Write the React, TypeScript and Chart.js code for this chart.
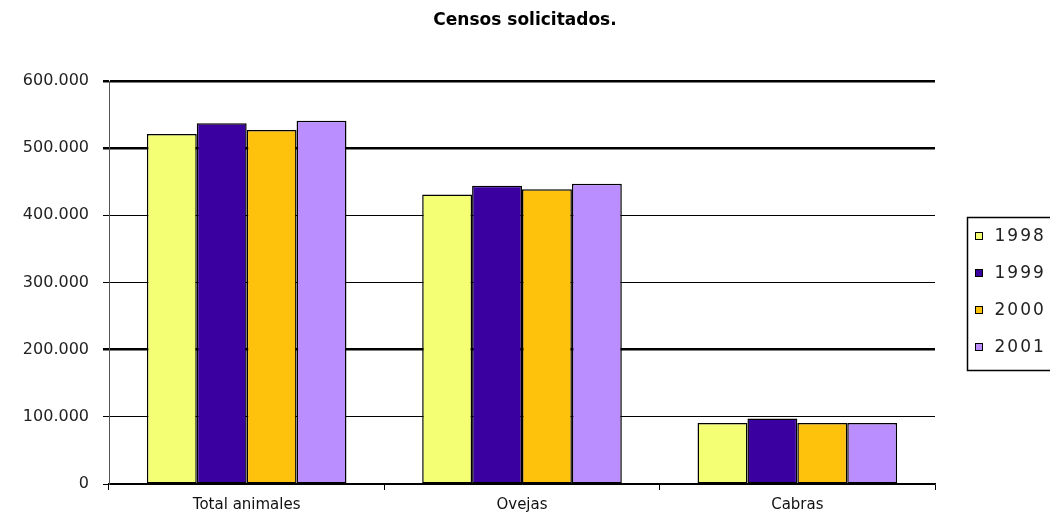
import React, { useEffect, useRef } from "react";
import { Chart, registerables } from "chart.js";

Chart.register(...registerables);

const categories = ["Total animales", "Ovejas", "Cabras"];
const years = ["1998", "1999", "2000", "2001"];
const values1998 = [521000, 431000, 91000];
const values1999 = [537000, 444000, 97500];
const values2000 = [527000, 439000, 91000];
const values2001 = [541000, 447000, 91000];
const seriesColors = ["#F5FF73", "#3A00A0", "#FFC20C", "#BB8EFF"];
const thickGridValues = [600000, 500000, 200000];

const fmt = (v: number) => {
  const s = Math.round(v).toString();
  return s.replace(/\B(?=(\d{3})+(?!\d))/g, ".");
};

const boxLegend = {
  id: "boxLegend",
  afterDraw(chart: any) {
    const ctx = chart.ctx as CanvasRenderingContext2D;
    ctx.save();
    const left = 967.5;
    const top = 217.5;
    ctx.lineWidth = 1.5;
    ctx.strokeStyle = "#000";
    ctx.strokeRect(left, top, 95, 153);
    chart.data.datasets.forEach((ds: any, i: number) => {
      const cy = top + 19 + i * 37;
      ctx.fillStyle = ds.backgroundColor;
      ctx.fillRect(left + 8, cy - 4, 7, 7);
      ctx.lineWidth = 1;
      ctx.strokeStyle = "#000";
      ctx.strokeRect(left + 8, cy - 4, 7, 7);
      ctx.fillStyle = "#222";
      ctx.font = "17px 'DejaVu Sans'";
      (ctx as any).letterSpacing = "2px";
      ctx.textBaseline = "middle";
      ctx.textAlign = "left";
      ctx.fillText(ds.label, left + 27, cy);
      (ctx as any).letterSpacing = "0px";
    });
    ctx.restore();
  },
};

export default function App() {
  const ref = useRef<HTMLCanvasElement>(null);
  useEffect(() => {
    const series = [values1998, values1999, values2000, values2001];
    const chart = new Chart(ref.current!, {
      type: "bar",
      data: {
        labels: categories,
        datasets: years.map((y, i) => ({
          label: y,
          data: series[i],
          backgroundColor: seriesColors[i],
          borderColor: "#000",
          borderWidth: 1.5,
          borderSkipped: false,
          categoryPercentage: 0.725,
          barPercentage: 1,
        })),
      },
      options: {
        responsive: false,
        animation: false,
        layout: { padding: 0 },
        plugins: {
          legend: { display: false },
          tooltip: { enabled: false },
          title: {
            display: true,
            text: "Censos solicitados.",
            color: "#000",
            font: { family: "'DejaVu Sans', sans-serif", size: 17, weight: "bold" },
            padding: { top: 10, bottom: 50.6 },
          },
        },
        scales: {
          x: {
            afterFit(scale: any) {
              scale.height = 33;
            },
            grid: {
              drawOnChartArea: false,
              drawTicks: true,
              tickLength: 6,
              color: "#000",
              lineWidth: 1,
            },
            border: { color: "#000", width: 1.5 },
            ticks: {
              color: "#111",
              padding: 6,
              font: { family: "'DejaVu Sans', sans-serif", size: 15 },
            },
          },
          y: {
            min: 0,
            max: 600000,
            afterFit(scale: any) {
              scale.width = 109;
            },
            grid: {
              color: "#000",
              lineWidth: (c: any) =>
                c.tick && thickGridValues.includes(c.tick.value) ? 2.5 : 1,
              tickLength: 6,
            },
            border: { color: "#555", width: 1 },
            ticks: {
              stepSize: 100000,
              padding: 14,
              color: "#222",
              font: { family: "'DejaVu Sans', sans-serif", size: 16 },
              callback: (v: any) => fmt(Number(v)),
            },
          },
          legendSpace: {
            type: "linear",
            position: "right",
            min: 0,
            max: 1,
            afterFit(scale: any) {
              scale.width = 115;
            },
            grid: { display: false, drawTicks: false },
            border: { display: false },
            ticks: { display: false },
          },
        },
      },
      plugins: [boxLegend],
    });
    return () => chart.destroy();
  }, []);
  return (
    <div style={{ position: "fixed", left: 0, top: 0, width: 1050, height: 517, background: "#fff" }}>
      <canvas ref={ref} width={1050} height={517} />
    </div>
  );
}
